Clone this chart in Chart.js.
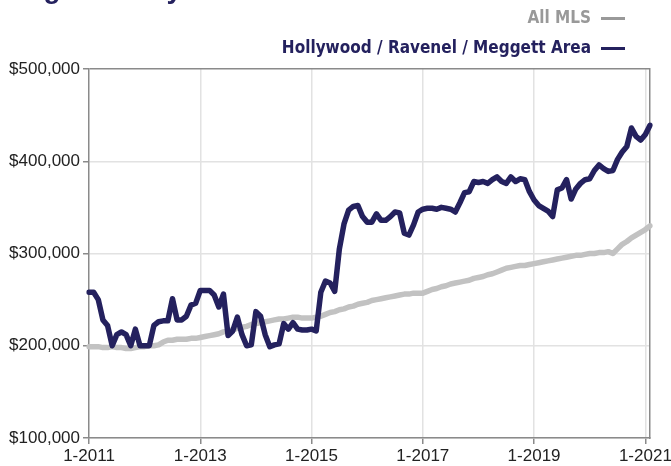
<!DOCTYPE html>
<html>
<head>
<meta charset="utf-8">
<script src="https://cdn.jsdelivr.net/npm/chart.js@4"></script>
<style>
  html, body { margin: 0; padding: 0; background: #fff; }
  #wrap { position: relative; width: 671px; height: 466px; overflow: hidden; }
  #title {
    position: absolute; left: 0; top: -27px;
    font: bold 28px "Liberation Sans", Arial, sans-serif;
    color: #24215e; white-space: nowrap;
  }
  .leg {
    position: absolute; right: 46px;
    font-family: "Liberation Sans Narrow", "DejaVu Sans Condensed", sans-serif;
    font-weight: bold; font-size: 17px; white-space: nowrap;
  }
  .leg .dash { display: inline-block; width: 24px; height: 3px; margin-left: 10px; vertical-align: middle; }
</style>
</head>
<body>
<div id="wrap">
  <div id="title">Single-Family Detached</div>
  <div class="leg" style="top:7px;color:#999">All MLS<span class="dash" style="background:#999"></span></div>
  <div class="leg" style="top:37px;color:#24215e">Hollywood / Ravenel / Meggett Area<span class="dash" style="background:#24215e"></span></div>
  <canvas id="chart" width="671" height="466"></canvas>
</div>
<script>
// ── Data ────────────────────────────────────────────────

// monthly, 1-2011 .. 2-2021
const MONTHS = [];
for (let y = 2011; y <= 2021; y++) {
  for (let m = 1; m <= 12; m++) {
    if (y === 2021 && m > 2) break;
    MONTHS.push(m + '-' + y);
  }
}

const TICK_LABELS = ['1-2011', '1-2013', '1-2015', '1-2017', '1-2019', '1-2021'];

// median sales price, thousands of dollars
const AREA_PRICES = [
  258, 258, 250, 228, 222, 200, 212, 215, 212, 200, 218, 200,
  200, 200, 222, 226, 227, 227, 251, 228, 228, 232, 244, 246,
  260, 260, 260, 255, 242, 256, 211, 216, 231, 212, 200, 201,
  237, 232, 212, 199, 201, 202, 224, 218, 225, 218, 217, 217,
  218, 216, 258, 270, 268, 259, 305, 332, 347, 351, 352, 340,
  334, 334, 343, 336, 336, 340, 345, 344, 322, 320, 331, 345,
  348, 349, 349, 348, 350, 349, 348, 345, 355, 366, 367, 378,
  377, 378, 376, 380, 383, 378, 376, 383, 378, 381, 380, 367,
  358, 352, 349, 346, 340, 369, 371, 380, 359, 370, 376, 380,
  381, 390, 396, 392, 389, 390, 402, 410, 416, 436, 427, 423,
  429, 439
];

const MLS_PRICES = [
  199, 199, 199, 198, 198, 199, 198, 198, 197, 197, 198, 199,
  199, 200, 200, 201, 204, 206, 206, 207, 207, 207, 208, 208,
  209, 210, 211, 212, 213, 215, 216, 217, 219, 220, 221, 223,
  224, 225, 226, 227, 228, 229, 229, 230, 231, 231, 230, 230,
  230, 231, 232, 234, 236, 237, 239, 240, 242, 243, 245, 246,
  247, 249, 250, 251, 252, 253, 254, 255, 256, 256, 257, 257,
  257, 259, 261, 262, 264, 265, 267, 268, 269, 270, 271, 273,
  274, 275, 277, 278, 280, 282, 284, 285, 286, 287, 287, 288,
  289, 290, 291, 292, 293, 294, 295, 296, 297, 298, 298, 299,
  300, 300, 301, 301, 302, 300, 305, 310, 313, 317, 320, 323,
  326, 330
];

// ── Colors ──────────────────────────────────────────────

const NAVY = '#24215e';
const GRAY_LINE = '#c2c2c2';
const GRID = '#e2e2e2';
const AXIS = '#8a8a8a';
const TICK_FONT = { family: "'Liberation Sans', Arial, sans-serif", size: 17 };

// ── Chart ───────────────────────────────────────────────

new Chart(document.getElementById('chart'), {
  type: 'line',
  data: {
    labels: MONTHS,
    datasets: [
      {
        label: 'Hollywood / Ravenel / Meggett Area',
        data: AREA_PRICES.map(v => v * 1000),
        borderColor: NAVY,
        borderWidth: 5.5,
      },
      {
        label: 'All MLS',
        data: MLS_PRICES.map(v => v * 1000),
        borderColor: GRAY_LINE,
        borderWidth: 5.5,
      },
    ],
  },
  options: {
    responsive: false,
    animation: false,
    devicePixelRatio: 1,
    elements: {
      point: { radius: 0 },
      line: { tension: 0, borderJoinStyle: 'round', borderCapStyle: 'round' },
    },
    layout: { padding: { top: 69, right: 21, left: 0, bottom: 0 } },
    plugins: { legend: { display: false }, tooltip: { enabled: false } },
    scales: {
      x: {
        offset: false,
        afterFit: s => { s.height = 28; },
        border: { color: AXIS, width: 1.5 },
        grid: {
          color: c => (c.index % 24 === 0 && c.index > 0) ? GRID : 'transparent',
          tickColor: c => c.index % 24 === 0 ? AXIS : 'transparent',
          lineWidth: 1.5,
          tickLength: 6,
        },
        ticks: {
          autoSkip: false,
          maxRotation: 0,
          padding: 2,
          color: '#222',
          font: TICK_FONT,
          callback: (v, i) => i % 24 === 0 ? TICK_LABELS[i / 24] : '',
        },
      },
      y: {
        min: 100000,
        max: 500000,
        afterFit: s => { s.width = 89; },
        border: { color: AXIS, width: 1.5 },
        grid: {
          color: c => c.tick && c.tick.value === 500000 ? AXIS : GRID,
          tickColor: AXIS,
          lineWidth: 1.5,
          tickLength: 6,
        },
        ticks: {
          stepSize: 100000,
          padding: 3,
          color: '#222',
          font: TICK_FONT,
          callback: v => '$' + v.toLocaleString('en-US'),
        },
      },
      y2: {
        position: 'right',
        min: 100000,
        max: 500000,
        afterFit: s => { s.width = 0; },
        border: { color: AXIS, width: 1.5 },
        grid: { display: false },
        ticks: { display: false },
      },
    },
  },
});
</script>
</body>
</html>
